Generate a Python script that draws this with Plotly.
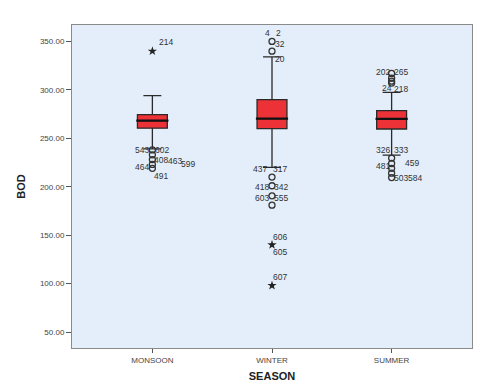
import plotly.graph_objects as go

seasons = ["MONSOON", "WINTER", "SUMMER"]
q1 = [260.5, 260.0, 259.6]
median = [268.2, 270.3, 270.0]
q3 = [274.4, 290.0, 278.6]
lower_whisker = [239.0, 220.0, 232.7]
upper_whisker = [294.0, 334.0, 297.5]

# outliers (circles) and extremes (stars)
circle_season = ["MONSOON"] * 5 + ["WINTER"] * 6 + ["SUMMER"] * 9
circle_values = [238, 233, 228, 223, 219,
                 350, 340, 210, 201, 190.6, 181,
                 317, 312, 309, 307, 229.6, 224, 219, 214, 209.5]
star_season = ["MONSOON", "WINTER", "WINTER"]
star_values = [340, 140, 98]

# case labels: text, season, value of labelled point
label_text = ["214", "543", "602", "408", "463", "599", "464", "491",
              "4", "2", "32", "20", "437", "317", "418", "342", "603", "555", "606", "605", "607",
              "202", "265", "24", "218", "326", "333", "459", "481", "503", "584"]
label_season = ["MONSOON"] * 8 + ["WINTER"] * 13 + ["SUMMER"] * 10
label_value = [340, 238, 238, 228, 228, 223, 219, 219,
               350, 350, 350, 340, 210, 210, 201, 201, 190.6, 190.6, 140, 140, 98,
               317, 317, 307, 307, 229.6, 229.6, 224, 219, 209.5, 209.5]
label_dx = [14, -10, 10, 9, 23, 36, -10, 9,
            -5, 6, 8, 8, -12, 8, -10, 9, -10, 9, 8, 8, 8,
            -9, 9, -5, 9, -9, 9, 20, -9, 9, 23]
label_dy = [9, 0, 0, 0, -1, 0, 1, -8,
            8, 8, -3, -8, 8, 8, -1, -1, -2, -2, 8, -7, 9,
            1, 1, -5, -6, 8, 8, 1, 2, 0, 0]

y_ticks = [50, 100, 150, 200, 250, 300, 350]

FONT = "Arial, Liberation Sans, sans-serif"

fig = go.Figure()
fig.add_trace(go.Box(
    x=seasons, q1=q1, median=median, q3=q3,
    lowerfence=lower_whisker, upperfence=upper_whisker,
    boxpoints=False, width=0.25, whiskerwidth=0.6,
    fillcolor="#EC3237", line=dict(color="#2a2a2a", width=1.3),
    showlegend=False, hoverinfo="skip",
))
# thicker median line
fig.add_trace(go.Scatter(
    x=seasons, y=median, mode="markers",
    marker=dict(symbol="line-ew", size=23, line=dict(color="#111111", width=2.2)),
    showlegend=False, hoverinfo="skip",
))
fig.add_trace(go.Scatter(
    x=circle_season, y=circle_values, mode="markers",
    marker=dict(symbol="circle-open", size=6, color="#333333", line=dict(width=1.3)),
    showlegend=False, hoverinfo="skip",
))
fig.add_trace(go.Scatter(
    x=star_season, y=star_values, mode="markers",
    marker=dict(symbol="star", size=7, color="#222222"),
    showlegend=False, hoverinfo="skip",
))

for t, s, v, dx, dy in zip(label_text, label_season, label_value, label_dx, label_dy):
    fig.add_annotation(x=s, y=v, text=t, showarrow=False, xshift=dx, yshift=dy,
                       font=dict(family=FONT, size=8.5, color="#333333"))

# page body has an 8px default margin, so the figure is sized and placed to compensate
fig.update_layout(
    width=485, height=384,
    margin=dict(l=56, r=21, t=17, b=37),
    paper_bgcolor="white", plot_bgcolor="#E3EEFA",
    font=dict(family=FONT, color="#444444"),
)
fig.update_xaxes(
    type="category", categoryorder="array", categoryarray=seasons,
    range=[-0.672, 2.672],
    showline=True, linecolor="#8a8a8a", linewidth=1, mirror=True,
    ticks="outside", ticklen=4, tickcolor="#555555",
    showgrid=False, zeroline=False,
    tickfont=dict(family=FONT, size=8, color="#444444"),
    title=dict(text="<b>SEASON</b>", font=dict(family=FONT, size=11, color="#222222"), standoff=8),
)
fig.update_yaxes(
    range=[33.5, 367],
    tickvals=y_ticks, ticktext=[f"{v:.2f}" for v in y_ticks],
    showline=True, linecolor="#8a8a8a", linewidth=1, mirror=True,
    ticks="outside", ticklen=5, tickcolor="#555555",
    showgrid=False, zeroline=False,
    tickfont=dict(family=FONT, size=8, color="#444444"),
    title=dict(text="<b>BOD</b>", font=dict(family=FONT, size=11, color="#222222"), standoff=12),
)

fig.write_html("out.html")
